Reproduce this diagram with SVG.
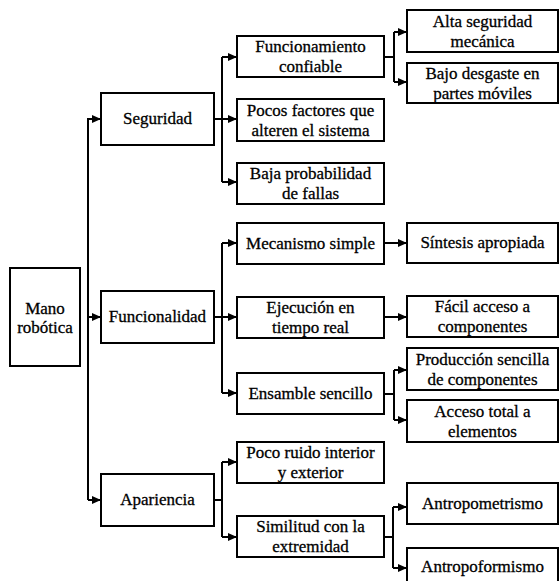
<svg xmlns="http://www.w3.org/2000/svg" width="560" height="581" viewBox="0 0 560 581">
<defs>
<marker id="ah" markerUnits="userSpaceOnUse" markerWidth="9" markerHeight="8" refX="9" refY="4" orient="auto">
<path d="M0,0 L9,4 L0,8 z" fill="#000"/>
</marker>
<style>
rect{fill:#fff;stroke:#000;stroke-width:2}
text{font-size:17px;fill:#000;text-anchor:middle;stroke:#000;stroke-width:0.3}
.c path{fill:none;stroke:#000;stroke-width:2}
.c path.a{marker-end:url(#ah)}
</style>
</defs>
<rect x="0" y="0" width="560" height="581" style="fill:#fff;stroke:none"/>
<g class="c" id="connectors">
<path d="M88,118 V500"/>
<path class="a" d="M88,119 H101"/>
<path class="a" d="M88,317 H101"/>
<path class="a" d="M88,500 H101"/>
<path d="M214,119 H222"/>
<path d="M222,57 V182"/>
<path class="a" d="M222,57 H237"/>
<path class="a" d="M222,119 H237"/>
<path class="a" d="M222,182 H237"/>
<path d="M214,317 H222"/>
<path d="M222,243 V393"/>
<path class="a" d="M222,243 H237"/>
<path class="a" d="M222,317 H237"/>
<path class="a" d="M222,393 H237"/>
<path d="M214,500 H222"/>
<path d="M222,462 V537"/>
<path class="a" d="M222,462 H237"/>
<path class="a" d="M222,537 H237"/>
<path d="M384,57 H394"/>
<path d="M394,32 V82"/>
<path class="a" d="M394,32 H407"/>
<path class="a" d="M394,82 H407"/>
<path class="a" d="M384,243 H407"/>
<path class="a" d="M384,317 H407"/>
<path d="M384,394 H394"/>
<path d="M394,370 V420"/>
<path class="a" d="M394,370 H407"/>
<path class="a" d="M394,420 H407"/>
<path d="M384,537 H393"/>
<path d="M393,507 V568"/>
<path class="a" d="M393,507 H407"/>
<path class="a" d="M393,568 H407"/>
</g>
<g id="nodes" font-family="Liberation Serif, Times New Roman, serif">
<g id="n-mano"><rect x="10" y="268" width="70" height="98"/><text x="45" y="314">Mano</text><text x="45" y="333">robótica</text></g>
<g id="n-seguridad"><rect x="101" y="93" width="113" height="52"/><text x="157.5" y="124">Seguridad</text></g>
<g id="n-funcionalidad"><rect x="101" y="291" width="113" height="52"/><text x="157.5" y="322">Funcionalidad</text></g>
<g id="n-apariencia"><rect x="101" y="474" width="113" height="52"/><text x="157.5" y="505">Apariencia</text></g>
<g id="n-funcionamiento"><rect x="237" y="36" width="147" height="41"/><text x="310.5" y="52">Funcionamiento</text><text x="310.5" y="72">confiable</text></g>
<g id="n-pocos"><rect x="237" y="99" width="147" height="42"/><text x="310.5" y="116">Pocos factores que</text><text x="310.5" y="136">alteren el sistema</text></g>
<g id="n-baja"><rect x="237" y="163" width="147" height="41"/><text x="310.5" y="179">Baja probabilidad</text><text x="310.5" y="199">de fallas</text></g>
<g id="n-mecanismo"><rect x="237" y="223" width="147" height="41"/><text x="310.5" y="249">Mecanismo simple</text></g>
<g id="n-ejecucion"><rect x="237" y="297" width="147" height="41"/><text x="310.5" y="313">Ejecución en</text><text x="310.5" y="333">tiempo real</text></g>
<g id="n-ensamble"><rect x="237" y="373" width="147" height="41"/><text x="310.5" y="399">Ensamble sencillo</text></g>
<g id="n-poco-ruido"><rect x="237" y="442" width="147" height="41"/><text x="310.5" y="458">Poco ruido interior</text><text x="310.5" y="478">y exterior</text></g>
<g id="n-similitud"><rect x="237" y="516" width="147" height="41"/><text x="310.5" y="532">Similitud con la</text><text x="310.5" y="552">extremidad</text></g>
<g id="n-alta"><rect x="407" y="10" width="151" height="42"/><text x="482.5" y="27">Alta seguridad</text><text x="482.5" y="47">mecánica</text></g>
<g id="n-bajo"><rect x="407" y="63" width="151" height="40"/><text x="482.5" y="79">Bajo desgaste en</text><text x="482.5" y="99">partes móviles</text></g>
<g id="n-sintesis"><rect x="407" y="223" width="151" height="40"/><text x="482.5" y="248">Síntesis apropiada</text></g>
<g id="n-facil"><rect x="407" y="296" width="151" height="41"/><text x="482.5" y="312">Fácil acceso a</text><text x="482.5" y="332">componentes</text></g>
<g id="n-produccion"><rect x="407" y="348" width="151" height="42"/><text x="482.5" y="365">Producción sencilla</text><text x="482.5" y="385">de componentes</text></g>
<g id="n-acceso"><rect x="407" y="400" width="151" height="42"/><text x="482.5" y="417">Acceso total a</text><text x="482.5" y="437">elementos</text></g>
<g id="n-antropometrismo"><rect x="407" y="483" width="151" height="41"/><text x="482.5" y="509">Antropometrismo</text></g>
<g id="n-antropoformismo"><rect x="407" y="548" width="151" height="45"/><text x="482.5" y="572">Antropoformismo</text></g>
</g>
</svg>
